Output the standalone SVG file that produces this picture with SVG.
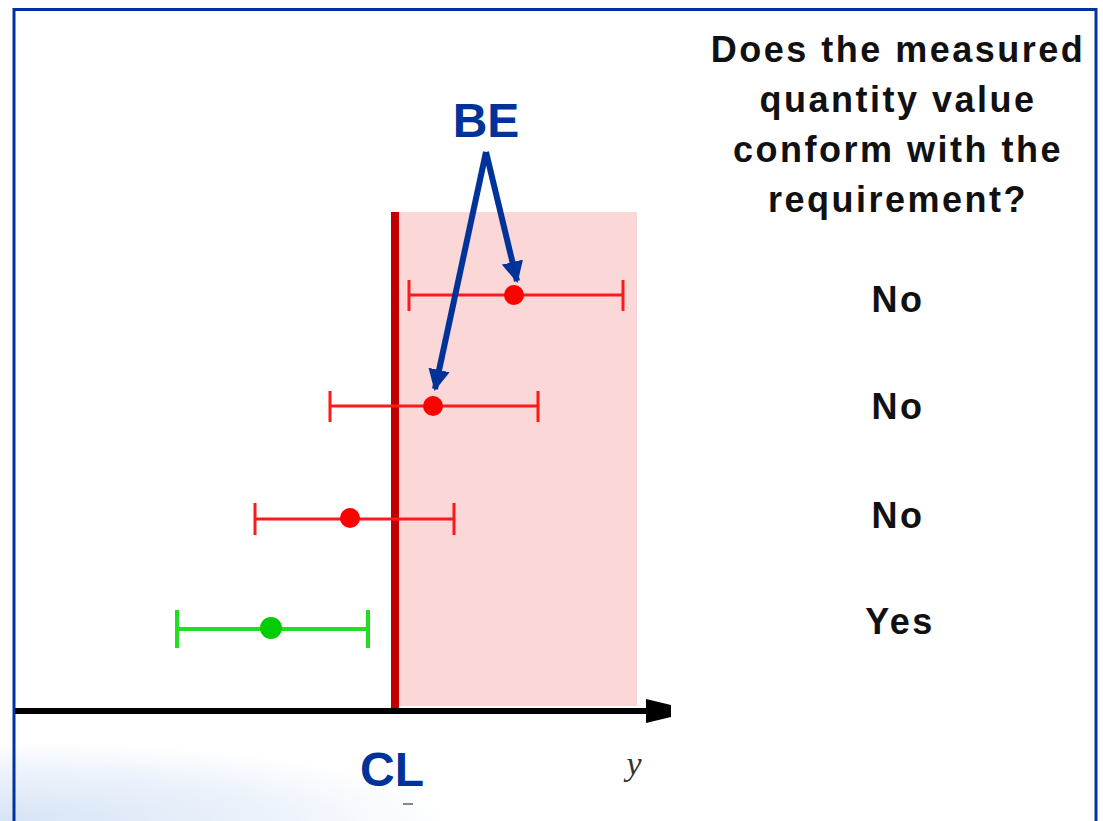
<svg xmlns="http://www.w3.org/2000/svg" width="1103" height="821" viewBox="0 0 1103 821">
<defs>
<style>
.eb{stroke:#ff1a1a;stroke-width:3;fill:none}
.ebg{stroke:#22dd22;stroke-width:4;fill:none}
.lbl{font-family:"Liberation Sans",Arial,sans-serif;font-weight:bold;fill:#111;text-anchor:middle;letter-spacing:2.5px}
.blue{font-family:"Liberation Sans",Arial,sans-serif;font-weight:bold;fill:#003399;text-anchor:middle}
.arr{stroke:#003399;stroke-width:6;fill:none}
</style>
<marker id="ah" viewBox="0 0 10 10" refX="9" refY="5" markerWidth="3.6" markerHeight="3.6" orient="auto" markerUnits="strokeWidth">
<path d="M0,0 L10,5 L0,10 Z" fill="#003399"/>
</marker>
<radialGradient id="bg" gradientUnits="userSpaceOnUse" cx="0" cy="821" r="1" gradientTransform="translate(0,821) scale(450,80) translate(0,-821)">
<stop offset="0" stop-color="#d6e4f6"/>
<stop offset="0.6" stop-color="#ecf2fb"/>
<stop offset="1" stop-color="#ffffff"/>
</radialGradient>
</defs>
<rect width="1103" height="821" fill="#fff"/>
<rect x="0" y="730" width="460" height="91" fill="url(#bg)"/>
<path d="M14,821 V9.5 H1096 V821" fill="none" stroke="#0033a0" stroke-width="3"/>
<g id="zone">
<rect x="399" y="212" width="238" height="494" fill="#fbd7d7"/>
<line x1="395" y1="212" x2="395" y2="709" stroke="#c00000" stroke-width="8"/>
</g>
<g id="axis">
<line x1="15" y1="711" x2="655" y2="711" stroke="#000" stroke-width="6"/>
<path d="M646,699 L671,705 L671,717 L646,723 Z" fill="#000"/>
<text x="634" y="775" font-family="Liberation Serif,serif" font-style="italic" font-size="34" fill="#333" text-anchor="middle">y</text>
<text x="392" y="786" class="blue" font-size="48">CL</text>
<line x1="403" y1="804" x2="413" y2="804" stroke="#888" stroke-width="2"/>
</g>
<g id="bar1">
<path class="eb" d="M409,295 H623 M409,280 V311 M623,280 V311"/>
<circle cx="514" cy="295" r="10" fill="#ff0000"/>
</g>
<g id="bar2">
<path class="eb" d="M330,406 H538 M330,391 V422 M538,391 V422"/>
<circle cx="433" cy="406" r="10" fill="#ff0000"/>
</g>
<g id="bar3">
<path class="eb" d="M255,519 H454 M255,503 V535 M454,503 V535"/>
<circle cx="350" cy="518" r="10" fill="#ff0000"/>
</g>
<g id="bar4">
<path class="ebg" d="M177,629 H368 M177,610 V648 M368,610 V648"/>
<circle cx="271" cy="628" r="11" fill="#00cc00"/>
</g>
<g id="be">
<text x="486" y="137" class="blue" font-size="48">BE</text>
</g>
<g id="connectors">
<line class="arr" x1="486" y1="152" x2="517" y2="281" marker-end="url(#ah)"/>
<line class="arr" x1="486" y1="152" x2="435" y2="389" marker-end="url(#ah)"/>
</g>
<g id="question">
<text class="lbl" font-size="36" x="898" y="62">Does the measured</text>
<text class="lbl" font-size="36" x="898" y="112">quantity value</text>
<text class="lbl" font-size="36" x="898" y="162">conform with the</text>
<text class="lbl" font-size="36" x="898" y="212">requirement?</text>
</g>
<g id="answers">
<text class="lbl" font-size="36" x="898" y="312">No</text>
<text class="lbl" font-size="36" x="898" y="419">No</text>
<text class="lbl" font-size="36" x="898" y="528">No</text>
<text class="lbl" font-size="36" x="900" y="634">Yes</text>
</g>
</svg>
